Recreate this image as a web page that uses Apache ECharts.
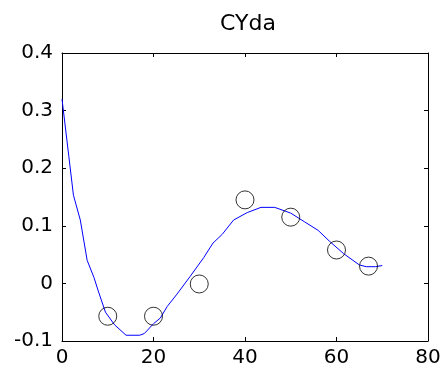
<!DOCTYPE html>
<html>
<head>
<meta charset="utf-8">
<script src="https://cdn.jsdelivr.net/npm/echarts@6/dist/echarts.min.js"></script>
<style>
html, body { margin: 0; padding: 0; background: #fff; }
#chart { width: 445px; height: 374px; }
</style>
</head>
<body>
<div id="chart"></div>
<script>
// fitted curve (blue line)
var curveX = [0, 1.5, 2.5, 4, 5.5, 7, 8, 9.5, 11.5, 14, 17, 18, 20, 21.5, 23, 25, 28, 31, 33, 35, 37.5, 40.5, 43.5, 46.5, 50, 53, 56, 58.5, 61.5, 65, 66.5, 68.5, 70];
var curveY = [0.32, 0.22, 0.153, 0.11, 0.04, 0.01, -0.015, -0.05, -0.072, -0.09, -0.09, -0.087, -0.07, -0.06, -0.04, -0.02, 0.012, 0.045, 0.07, 0.085, 0.11, 0.123, 0.132, 0.132, 0.122, 0.107, 0.092, 0.073, 0.052, 0.032, 0.029, 0.029, 0.031];

// measured points (circles)
var pointX = [10, 20, 30, 40, 50, 60, 67];
var pointY = [-0.057, -0.057, -0.001, 0.145, 0.115, 0.058, 0.03];

var xTicks = [0, 20, 40, 60, 80];
var yTicks = [-0.1, 0, 0.1, 0.2, 0.3, 0.4];

function pairs(xs, ys) {
    var out = [];
    for (var i = 0; i < xs.length; i++) {
        out.push([xs[i], ys[i]]);
    }
    return out;
}

var font = 'DejaVu Sans, Arial, sans-serif';

function xAxisDef(pos, showLabel) {
    return {
        type: 'value',
        position: pos,
        min: xTicks[0],
        max: xTicks[xTicks.length - 1],
        interval: 20,
        axisLine: { show: true, onZero: false, lineStyle: { color: '#000', width: 1 } },
        axisTick: { show: true, inside: true, length: 4, lineStyle: { color: '#000' } },
        axisLabel: { show: showLabel, color: '#000', fontSize: 20, fontFamily: font, margin: 7 },
        splitLine: { show: false }
    };
}

function yAxisDef(pos, showLabel) {
    return {
        type: 'value',
        position: pos,
        min: yTicks[0],
        max: yTicks[yTicks.length - 1],
        interval: 0.1,
        axisLine: { show: true, onZero: false, lineStyle: { color: '#000', width: 1 } },
        axisTick: { show: true, inside: true, length: 4, lineStyle: { color: '#000' } },
        axisLabel: {
            show: showLabel, color: '#000', fontSize: 20, fontFamily: font, margin: 9,
            formatter: function (v) { return String(Math.round(v * 10) / 10); }
        },
        splitLine: { show: false }
    };
}

var chart = echarts.init(document.getElementById('chart'));
var option = {
    backgroundColor: '#fff',
    animation: false,
    title: {
        text: 'CYda',
        left: 243,
        textAlign: 'center',
        top: 8,
        textStyle: { color: '#000', fontSize: 22, fontWeight: 'normal', fontFamily: font }
    },
    grid: { left: 62, right: 17, top: 53, bottom: 33 },
    xAxis: [xAxisDef('bottom', true), xAxisDef('top', false)],
    yAxis: [yAxisDef('left', true), yAxisDef('right', false)],
    series: [
        {
            type: 'line',
            data: pairs(curveX, curveY),
            showSymbol: false,
            lineStyle: { color: '#0000ff', width: 1 },
            z: 2
        },
        {
            type: 'scatter',
            data: pairs(pointX, pointY),
            symbol: 'circle',
            symbolSize: 18,
            itemStyle: { color: 'rgba(0,0,0,0)', borderColor: '#000', borderWidth: 1 },
            z: 3
        }
    ]
};
chart.setOption(option);
</script>
</body>
</html>
